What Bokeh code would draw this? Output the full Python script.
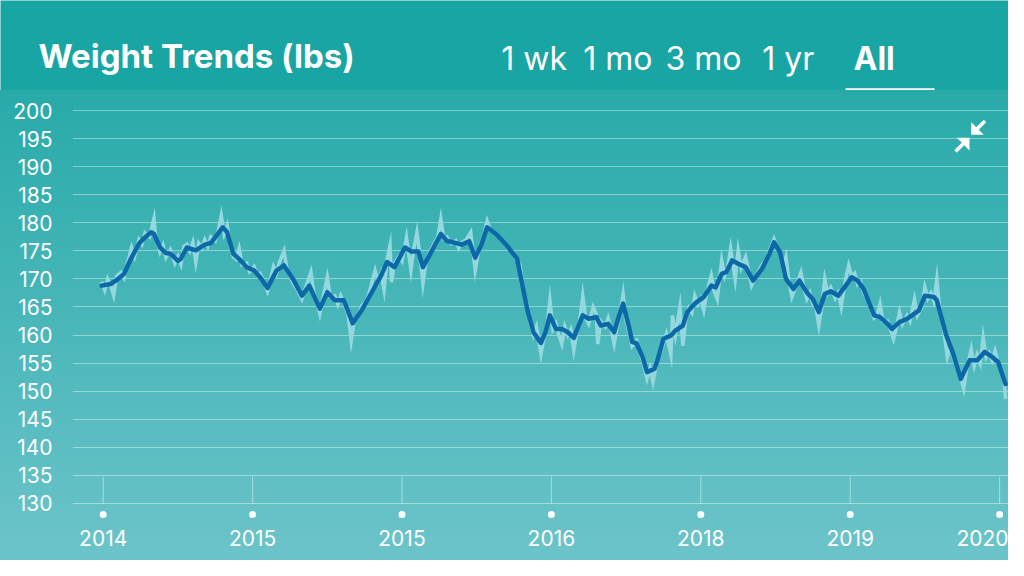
from bokeh.plotting import figure
from bokeh.models import FixedTicker, Label, Range1d, ColumnDataSource
from bokeh.layouts import column
from bokeh.embed import file_html
from bokeh.resources import INLINE

# ---------------- data ----------------
title_text = "Weight Trends (lbs)"
tab_labels = ["1 wk", "1 mo", "3 mo", "1 yr", "All"]
y_ticks = [130, 135, 140, 145, 150, 155, 160, 165, 170, 175, 180, 185, 190, 195, 200]
x_tick_pos = [0, 100, 200, 300, 400, 500, 600]
x_tick_labels = ["2014", "2015", "2015", "2016", "2018", "2019", "2020"]

trend_x = [-1, 5, 9, 14, 18, 24, 28, 32, 34, 38, 42, 45, 50, 52, 56, 62, 68, 72, 75, 80,
           83, 87, 92, 96, 101, 105, 110, 116, 121, 127, 133, 138, 145, 150, 155, 161, 167,
           173, 181, 186, 190, 195, 202, 206, 211, 214, 219, 226, 230, 240, 245, 249, 253,
           257, 263, 270, 277, 280, 284, 288, 293, 296, 299, 303, 307, 311, 315, 321, 325,
           330, 333, 338, 342, 345, 348, 352, 354, 357, 361, 364, 369, 371, 375, 378, 380,
           383, 388, 391, 396, 402, 407, 410, 414, 417, 421, 425, 430, 435, 441, 446, 449,
           453, 457, 462, 466, 471, 475, 479, 483, 487, 492, 497, 501, 505, 509, 516, 520,
           525, 528, 533, 538, 543, 546, 550, 556, 558, 564, 569, 574, 580, 585, 590, 595,
           599, 604]
trend_v = [168.8, 169.1, 169.8, 170.9, 173.3, 176.3, 177.4, 178.3, 178.0, 175.6, 174.6, 174.5,
           173.2, 173.6, 175.6, 175.1, 176.1, 176.4, 177.4, 179.2, 178.3, 174.5, 173.3, 172.1,
           171.5, 170.3, 168.4, 171.5, 172.4, 170.0, 167.0, 168.8, 164.7, 167.6, 166.2, 166.2,
           162.1, 164.4, 168.2, 170.6, 173.0, 172.1, 175.6, 174.9, 174.9, 172.1, 174.5, 178.0,
           176.8, 176.1, 176.7, 173.8, 176.0, 179.2, 178.0, 176.0, 173.6, 169.7, 164.4, 160.5,
           158.6, 160.5, 163.5, 161.1, 161.1, 160.5, 159.5, 163.5, 162.9, 163.2, 161.7, 162.0,
           160.5, 163.2, 165.6, 161.4, 158.8, 158.5, 156.1, 153.4, 154.0, 155.5, 159.3, 159.7,
           159.9, 160.8, 161.7, 164.1, 165.6, 166.8, 168.8, 168.5, 170.9, 171.2, 173.3, 172.7,
           172.1, 169.7, 171.8, 174.5, 176.5, 174.8, 170.0, 168.2, 169.7, 167.6, 166.4, 164.1,
           167.3, 167.8, 167.0, 168.8, 170.3, 169.7, 168.2, 163.5, 163.2, 162.0, 161.1, 162.3,
           162.9, 163.8, 164.4, 167.0, 166.8, 166.2, 160.2, 156.6, 152.2, 155.5, 155.5, 157.0,
           156.1, 155.2, 151.3]

raw_x = [-1, 1, 3, 5, 7, 9, 12, 14, 16, 19, 21, 24, 26, 28, 31, 34, 35, 38, 40, 42, 45, 48,
         50, 52, 54, 56, 58, 60, 62, 64, 66, 68, 70, 72, 75, 77, 79, 81, 83, 85, 87, 89, 91,
         93, 96, 98, 101, 103, 105, 108, 110, 112, 114, 116, 118, 121, 123, 125, 127, 130,
         133, 135, 139, 141, 143, 145, 147, 150, 152, 155, 157, 159, 161, 164, 166, 168, 170,
         173, 176, 178, 182, 184, 186, 188, 190, 192, 193, 195, 198, 200, 203, 206, 208, 210,
         212, 214, 216, 219, 222, 224, 226, 228, 230, 233, 236, 238, 240, 243, 246, 249, 251,
         253, 255, 257, 259, 262, 265, 268, 271, 274, 277, 279, 281, 284, 286, 288, 290, 293,
         295, 297, 299, 301, 303, 305, 307, 309, 311, 313, 315, 317, 319, 321, 323, 325, 328,
         330, 331, 333, 336, 338, 340, 342, 344, 346, 348, 350, 352, 354, 357, 359, 361, 364,
         366, 368, 370, 372, 375, 377, 380, 381, 383, 386, 388, 390, 392, 394, 396, 398, 400,
         402, 404, 407, 409, 411, 414, 416, 418, 420, 423, 425, 427, 430, 432, 434, 437, 441,
         444, 446, 449, 451, 453, 455, 457, 459, 461, 464, 467, 469, 471, 473, 475, 477, 479,
         481, 483, 485, 487, 490, 492, 494, 497, 499, 501, 503, 505, 507, 509, 512, 514, 516,
         518, 520, 522, 525, 527, 529, 531, 533, 535, 538, 540, 543, 545, 548, 550, 552, 554,
         556, 558, 560, 562, 565, 567, 569, 571, 574, 576, 578, 581, 583, 585, 587, 589, 591,
         593, 595, 597, 599, 601, 603, 604]
raw_v = [169.5, 168.0, 170.0, 168.8, 167.0, 170.5, 171.2, 170.2, 172.5, 175.6, 174.0, 177.0,
         176.2, 178.2, 177.5, 180.8, 177.8, 174.8, 176.0, 173.8, 175.2, 172.8, 174.0, 172.6,
         175.8, 176.2, 175.0, 176.5, 173.0, 176.3, 175.5, 177.0, 175.8, 177.5, 176.8, 178.5,
         181.3, 178.0, 179.5, 176.0, 174.0, 173.5, 175.4, 172.5, 172.8, 171.3, 172.2, 170.8,
         171.0, 169.2, 167.8, 170.0, 172.2, 171.0, 173.0, 175.0, 171.8, 170.5, 169.3, 168.0,
         166.4, 168.0, 171.2, 167.5, 166.0, 163.8, 166.5, 170.3, 166.8, 167.0, 165.5, 167.0,
         165.8, 163.5, 159.0, 162.5, 163.0, 165.2, 166.0, 167.5, 171.5, 169.5, 171.0, 168.0,
         173.5, 176.0, 169.4, 172.8, 174.0, 173.2, 177.4, 171.5, 175.5, 178.3, 174.2, 169.1,
         173.0, 175.0, 176.5, 177.5, 180.7, 177.2, 177.5, 176.3, 176.8, 175.5, 176.5, 177.0,
         178.3, 171.5, 174.5, 176.5, 178.0, 180.3, 178.8, 178.3, 177.5, 176.5, 175.6, 174.8,
         173.2, 172.5, 168.5, 165.0, 162.0, 160.0, 161.5, 156.6, 159.5, 161.5, 166.2, 161.0,
         162.0, 160.0, 158.4, 161.5, 160.0, 161.0, 157.3, 160.5, 162.5, 167.0, 163.0, 162.0,
         165.0, 163.8, 158.4, 162.5, 161.5, 163.0, 161.0, 158.4, 161.5, 164.0, 167.3, 162.5,
         160.5, 158.0, 159.0, 157.0, 155.5, 152.2, 154.0, 151.6, 154.5, 156.0, 158.5, 160.2,
         156.4, 163.5, 160.0, 165.0, 158.1, 163.0, 164.8, 164.0, 167.0, 165.5, 166.5, 164.4,
         167.5, 170.6, 167.8, 166.4, 173.3, 170.5, 172.0, 175.4, 170.0, 175.1, 172.0, 173.9,
         171.5, 168.8, 170.5, 172.5, 173.5, 175.0, 177.1, 175.5, 175.0, 172.0, 173.9, 169.5,
         166.8, 169.0, 171.2, 168.5, 166.4, 167.5, 165.5, 165.0, 161.7, 165.0, 170.0, 167.5,
         168.5, 166.5, 167.5, 165.0, 170.0, 172.4, 170.5, 171.0, 169.0, 169.5, 167.5, 166.0,
         164.5, 163.0, 163.5, 165.6, 162.5, 162.5, 161.0, 159.3, 161.5, 164.1, 162.0, 163.5,
         162.5, 166.4, 163.5, 165.0, 168.5, 166.5, 167.5, 166.0, 170.0, 164.5, 162.0, 156.1,
         158.0, 156.0, 154.5, 152.5, 150.4, 154.0, 157.5, 154.5, 156.5, 155.0, 159.6, 156.0,
         156.8, 155.5, 157.2, 155.0, 154.0, 152.0, 148.6]

# ---------------- layout helpers (page pixel -> chart data) ----------------
def sx(px):
    return (px - 102.7) / 1.494


def sy(py):
    return 200 - (py - 110) / 5.614


FONT = "Inter"
WHITE = "#ffffff"
W = 1008
HEADER_H = 90
CHART_H = 470

# ---------------- header bar ----------------
hdr = figure(width=W, height=HEADER_H, output_backend="svg", toolbar_location=None,
             x_range=Range1d(0, W), y_range=Range1d(HEADER_H, 0),
             x_axis_type=None, y_axis_type=None, title=None,
             min_border_left=0, min_border_right=0, min_border_top=0, min_border_bottom=0)
hdr.frame_align = False
hdr.background_fill_color = "#19a5a3"
hdr.border_fill_color = "#19a5a3"
hdr.outline_line_color = None
hdr.grid.visible = False

hdr.add_layout(Label(x=38, y=55, text=title_text, text_color=WHITE,
                     text_font=FONT, text_font_size="33px", text_font_style="bold",
                     text_baseline="alphabetic", text_align="left"))
tab_left = [500.7, 582.7, 665.0, 761.7, 853.0]
for lab, lx in zip(tab_labels, tab_left):
    hdr.add_layout(Label(x=lx, y=57.7, text=lab, text_color=WHITE,
                         text_font=FONT, text_font_size="32px",
                         text_font_style="bold" if lab == "All" else "normal",
                         text_baseline="alphabetic", text_align="left"))
hdr.quad(left=[845], right=[934], top=[87.8], bottom=[90],
         fill_color=WHITE, line_color=None)

# ---------------- chart ----------------
p = figure(width=W, height=CHART_H, output_backend="svg", toolbar_location=None,
           x_range=Range1d(sx(72), sx(W)), y_range=Range1d(sy(520), sy(HEADER_H)),
           min_border_left=72, min_border_right=0, min_border_top=0, min_border_bottom=40,
           title=None)
p.frame_align = False
p.styles = {"background": "linear-gradient(to bottom, #28aaa9 0px, #6cc4ca 470px)"}
p.background_fill_color = None
p.border_fill_color = None
p.outline_line_color = None

p.yaxis.ticker = FixedTicker(ticks=y_ticks)
p.yaxis.axis_line_color = None
p.yaxis.major_tick_line_color = None
p.yaxis.minor_tick_line_color = None
p.yaxis.major_tick_out = 0
p.yaxis.major_tick_in = 0
p.yaxis.major_label_standoff = 20
p.yaxis.major_label_text_color = WHITE
p.yaxis.major_label_text_font = FONT
p.yaxis.major_label_text_font_size = "21px"

p.xaxis.ticker = FixedTicker(ticks=x_tick_pos)
p.xaxis.major_label_overrides = {pos: lab for pos, lab in zip(x_tick_pos, x_tick_labels)}
p.xaxis.axis_line_color = None
p.xaxis.major_tick_line_color = None
p.xaxis.minor_tick_line_color = None
p.xaxis.major_tick_out = 0
p.xaxis.major_tick_in = 0
p.xaxis.major_label_standoff = 9
p.xaxis.major_label_text_color = WHITE
p.xaxis.major_label_text_font = FONT
p.xaxis.major_label_text_font_size = "21px"

p.xgrid.grid_line_color = None
p.ygrid.ticker = FixedTicker(ticks=y_ticks)
p.ygrid.grid_line_color = WHITE
p.ygrid.grid_line_alpha = 0.4
p.ygrid.grid_line_width = 1

tick_src = ColumnDataSource(dict(x=x_tick_pos,
                                 y0=[y_ticks[0]] * len(x_tick_pos),
                                 y1=[y_ticks[0] + 4.8] * len(x_tick_pos),
                                 yd=[y_ticks[0] - 1.96] * len(x_tick_pos)))
p.segment(x0="x", y0="y0", x1="x", y1="y1", source=tick_src,
          line_color=WHITE, line_alpha=0.45, line_width=1)
p.scatter(x="x", y="yd", source=tick_src, size=7, fill_color=WHITE, line_color=None)

p.line(raw_x, raw_v, line_color="#93d8de", line_width=3.5, line_join="miter")
p.line(trend_x, trend_v, line_color="#0d68a8", line_width=4.5,
       line_join="round", line_cap="round")

# compress icon
p.patches(xs=[[sx(970.7), sx(970.7), sx(983.3)], [sx(969), sx(969), sx(956.4)]],
          ys=[[sy(134.3), sy(121.7), sy(134.3)], [sy(137.3), sy(149.9), sy(137.3)]],
          fill_color=WHITE, line_color=None)
p.segment(x0=[sx(975), sx(964.5)], y0=[sy(130), sy(141.5)],
          x1=[sx(984.5), sx(955)], y1=[sy(120.5), sy(151)],
          line_color=WHITE, line_width=3.5)

layout = column(hdr, p, spacing=0)
open("out.html", "w").write(file_html(layout, INLINE))
